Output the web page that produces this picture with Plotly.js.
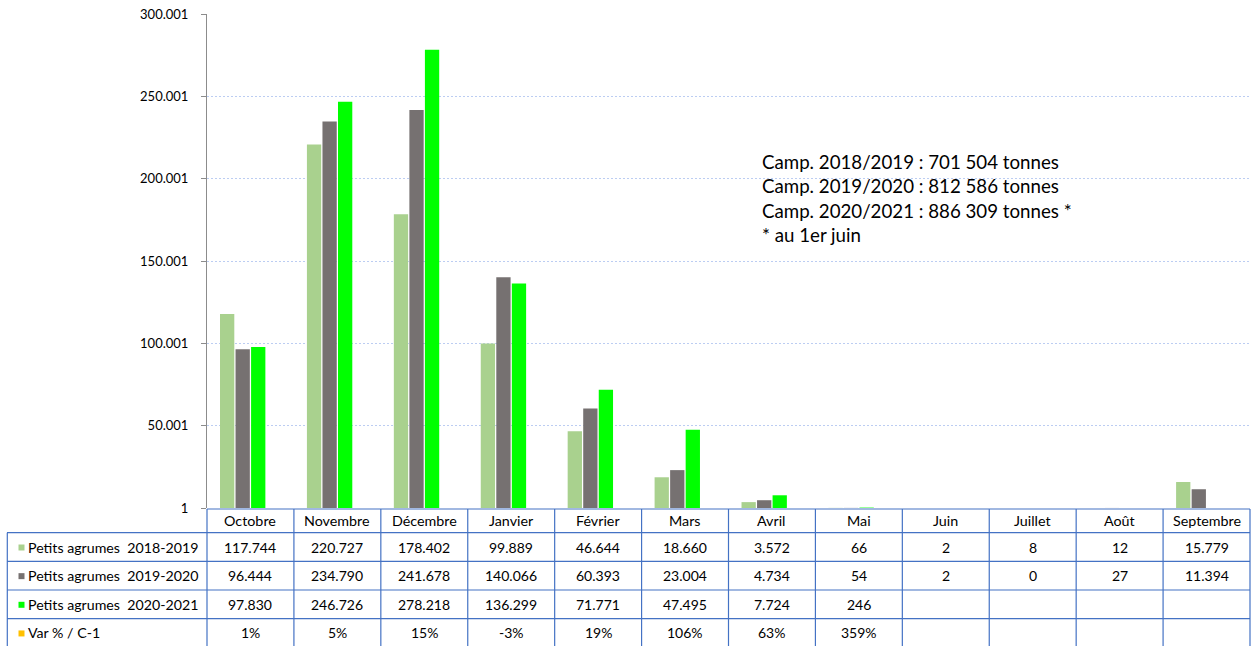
<!DOCTYPE html>
<html><head><meta charset="utf-8">
<script src="https://cdn.plot.ly/plotly-3.0.1.min.js"></script>
<style>html,body{margin:0;padding:0;background:#fff;}#chart{width:1254px;height:646px;}</style>
</head><body><div id="chart"></div>
<script>
const months = ['Octobre','Novembre','Décembre','Janvier','Février','Mars','Avril','Mai','Juin','Juillet','Août','Septembre'];
const s2018 = [117744,220727,178402,99889,46644,18660,3572,66,2,8,12,15779];
const s2019 = [96444,234790,241678,140066,60393,23004,4734,54,2,0,27,11394];
const s2020 = [97830,246726,278218,136299,71771,47495,7724,246,null,null,null,null];
const varPct = ['1%','5%','15%','-3%','19%','106%','63%','359%','','','',''];
const rowNames = ['Petits agrumes  2018-2019','Petits agrumes  2019-2020','Petits agrumes  2020-2021','Var % / C-1'];
const rowColors = ['#a9d18e','#767171','#00ff00','#ffc000'];
const yTickVals = [1,50001,100001,150001,200001,250001,300001];
const yTickText = ['1','50.001','100.001','150.001','200.001','250.001','300.001'];
const noteLines = ['Camp. 2018/2019 : 701 504 tonnes','Camp. 2019/2020 : 812 586 tonnes','Camp. 2020/2021 : 886 309 tonnes *','* au 1er juin'];

const FONT = 'Lato, Liberation Sans, Arial, sans-serif';
const W = 1254, H = 646, L = 207, R = 1250, T = 14, B = 508;
const px = x => (x - L) / (R - L);
const py = y => (B - y) / (B - T);
const fmt = v => (v === null || v === undefined) ? '' : String(v).replace(/\B(?=(\d{3})+(?!\d))/g, '.');

const series = [s2018, s2019, s2020];
const traces = series.map((s, i) => ({
  type: 'bar', x: months, y: s, name: rowNames[i],
  marker: {color: rowColors[i]}, hoverinfo: 'none'
}));
// 4th series (Var %) keeps its slot in each group but draws no visible bar
traces.push({type:'bar', x: months, y: months.map(() => null), name: rowNames[3], marker:{color: rowColors[3]}, hoverinfo:'none'});

const colW = (R - L) / months.length;
const rowTop = [509, 532.7, 561.3, 590, 618.6, 647.3];
const shapes = [];
const annotations = [];
const lineStyle = {color: '#4472c4', width: 1.2};
shapes.push({type:'line', xref:'paper', yref:'paper', x0:px(L), x1:px(R), y0:py(rowTop[0]), y1:py(rowTop[0]), line:lineStyle});
for (let r = 1; r < rowTop.length; r++) {
  shapes.push({type:'line', xref:'paper', yref:'paper', x0:px(7), x1:px(R), y0:py(rowTop[r]), y1:py(rowTop[r]), line:lineStyle});
}
shapes.push({type:'line', xref:'paper', yref:'paper', x0:px(7.3), x1:px(7.3), y0:py(rowTop[1]), y1:py(rowTop[5]), line:lineStyle});
for (let c = 0; c <= months.length; c++) {
  const x = L + c * colW;
  shapes.push({type:'line', xref:'paper', yref:'paper', x0:px(x), x1:px(x), y0:py(rowTop[0]), y1:py(rowTop[5]), line:lineStyle});
}
months.forEach((m, c) => {
  annotations.push({xref:'paper', yref:'paper', x:px(L + (c + 0.5) * colW), y:py((rowTop[0] + rowTop[1]) / 2),
    text:m, showarrow:false, font:{family:FONT, size:14.3, color:'#000'}, xanchor:'center', yanchor:'middle'});
});
const rowTexts = [s2018.map(fmt), s2019.map(fmt), s2020.map(fmt), varPct];
rowNames.forEach((n, r) => {
  const yc = (rowTop[r + 1] + rowTop[r + 2]) / 2;
  shapes.push({type:'rect', xref:'paper', yref:'paper', x0:px(18.5), x1:px(24.5), y0:py(yc - 2.5), y1:py(yc + 3.5),
    fillcolor:rowColors[r], line:{width:0}});
  annotations.push({xref:'paper', yref:'paper', x:px(25.5), y:py(yc), text:n, showarrow:false,
    font:{family:FONT, size:14.2, color:'#000'}, xanchor:'left', yanchor:'middle'});
  rowTexts[r].forEach((t, c) => {
    if (t === '') return;
    annotations.push({xref:'paper', yref:'paper', x:px(L + (c + 0.5) * colW), y:py(yc), text:t, showarrow:false,
      font:{family:FONT, size:14, color:'#000'}, xanchor:'center', yanchor:'middle'});
  });
});
noteLines.forEach((t, i) => {
  annotations.push({xref:'paper', yref:'paper', x:px(760), y:py(161.5 + i * 24.5), text:t, showarrow:false,
    font:{family:FONT, size:18.7, color:'#000'}, xanchor:'left', yanchor:'middle'});
});

const layout = {
  width: W, height: H,
  margin: {l: L, r: W - R, t: T, b: H - B, pad: 0},
  paper_bgcolor: '#fff', plot_bgcolor: '#fff',
  showlegend: false,
  barmode: 'group', bargap: 0.285, bargroupgap: 0.08,
  xaxis: {type:'category', showticklabels:false, showgrid:false, zeroline:false, showline:false, ticks:'', range:[-0.5, 11.5]},
  yaxis: {range:[1, 300001], tickvals:yTickVals, ticktext:yTickText, showgrid:true, gridcolor:'#bccdf2', griddash:'2px,2px', gridwidth:1,
    zeroline:false, showline:true, linecolor:'#8c8c8c', linewidth:1, ticks:'outside', ticklen:5, tickcolor:'#8c8c8c',
    tickfont:{family:FONT, size:13, color:'#000'}, ticklabelstandoff: 10},
  shapes: shapes, annotations: annotations
};
Plotly.newPlot('chart', traces, layout, {staticPlot:true, displayModeBar:false});
</script></body></html>
